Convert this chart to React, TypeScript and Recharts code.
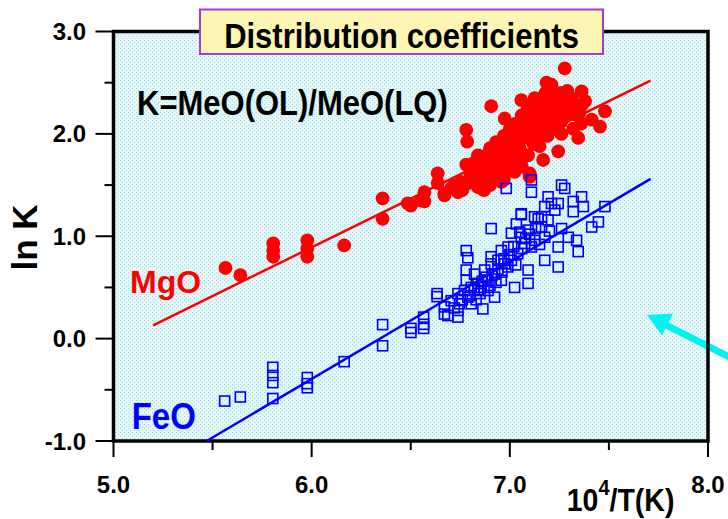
import React from "react";
import {
  ScatterChart,
  Scatter,
  XAxis,
  YAxis,
  ReferenceArea,
  ReferenceLine,
} from "recharts";

// ---------- data ----------
const xTicks = [5, 5.5, 6, 6.5, 7, 7.5, 8];
const yTicks = [-1, -0.5, 0, 0.5, 1, 1.5, 2, 2.5, 3];

// MgO: [10^4/T, ln K]
const mgoPoints: [number, number][] = [
  [5.565, 0.69], [5.64, 0.62], [5.806, 0.93], [5.806, 0.86], [5.806, 0.8],
  [5.978, 0.96], [5.978, 0.88], [5.978, 0.8], [6.164, 0.91], [6.358, 1.37],
  [6.358, 1.17], [6.485, 1.32], [6.501, 1.3], [6.55, 1.35], [6.569, 1.43],
  [6.569, 1.34], [6.636, 1.615], [6.636, 1.52], [6.67, 1.4], [6.67, 1.42],
  [6.704, 1.47], [6.738, 1.43], [6.72, 1.5], [6.754, 1.53], [6.76, 1.45],
  [6.78, 2.04], [6.785, 1.925], [6.78, 1.7], [6.79, 1.52], [6.8, 1.62],
  [6.82, 1.72], [6.83, 1.55], [6.839, 1.79], [6.839, 1.48], [6.85, 1.66],
  [6.856, 1.47], [6.86, 1.58], [6.87, 1.45], [6.87, 1.78], [6.88, 1.7],
  [6.89, 1.79], [6.9, 1.86], [6.9, 1.5], [6.906, 2.27], [6.906, 1.57],
  [6.91, 1.75], [6.923, 1.7], [6.93, 1.92], [6.93, 1.6], [6.94, 1.82],
  [6.95, 1.68], [6.957, 1.86], [6.957, 1.53], [6.957, 1.58], [6.97, 1.98],
  [6.974, 2.15], [6.97, 1.55], [6.98, 1.88], [6.99, 1.7], [6.99, 1.78],
  [7.0, 2.05], [7.0, 1.65], [7.01, 1.95], [7.02, 1.85], [7.024, 1.63],
  [7.03, 2.1], [7.03, 1.72], [7.04, 1.99], [7.04, 1.9], [7.05, 2.0],
  [7.058, 2.33], [7.06, 2.18], [7.06, 1.68], [7.07, 1.8], [7.08, 2.08],
  [7.09, 2.25], [7.092, 1.79], [7.1, 1.615], [7.1, 1.58], [7.1, 1.95],
  [7.11, 2.15], [7.12, 2.3], [7.125, 2.35], [7.13, 2.02], [7.14, 2.22],
  [7.15, 1.88], [7.16, 1.99], [7.16, 2.35], [7.168, 1.745], [7.17, 2.1],
  [7.18, 2.28], [7.185, 2.5], [7.19, 1.98], [7.193, 2.12], [7.2, 2.2],
  [7.21, 2.48], [7.21, 2.38], [7.22, 2.05], [7.23, 2.3], [7.24, 2.15],
  [7.244, 1.83], [7.25, 2.25], [7.26, 2.4], [7.26, 2.12], [7.26, 2.0],
  [7.277, 2.64], [7.28, 2.32], [7.3, 2.2], [7.311, 2.35], [7.32, 2.05],
  [7.328, 2.19], [7.34, 2.28], [7.345, 1.96], [7.362, 2.415], [7.362, 2.28],
  [7.36, 2.1], [7.413, 2.14], [7.455, 2.07], [7.48, 2.22],
  [6.86, 1.68], [6.88, 1.62], [6.92, 1.78], [6.95, 1.75], [6.96, 1.92],
  [6.98, 1.96], [7.0, 1.82], [7.02, 2.0], [7.03, 1.95], [7.05, 1.86],
  [7.06, 2.06], [7.07, 2.12], [7.08, 1.98], [7.09, 2.04], [7.11, 2.22],
  [7.12, 2.08], [7.13, 2.25], [7.14, 2.12], [7.15, 2.3], [7.17, 2.2],
  [7.18, 2.4], [7.19, 2.3], [7.2, 2.08], [7.22, 2.35], [7.24, 2.26],
  [7.27, 2.2], [7.29, 2.42], [7.31, 2.28], [7.35, 2.2], [7.38, 2.32],
  [6.84, 1.62], [6.91, 1.66], [7.06, 1.75], [7.12, 1.9],
];

// FeO: [10^4/T, ln K]
const feoPoints: [number, number][] = [
  [5.561, -0.61], [5.64, -0.57], [5.804, -0.28], [5.804, -0.36], [5.804, -0.43],
  [5.804, -0.585], [5.978, -0.38], [5.978, -0.44], [5.978, -0.48], [6.164, -0.225],
  [6.358, 0.137], [6.358, -0.07], [6.501, 0.06], [6.501, 0.1], [6.565, 0.21],
  [6.565, 0.14], [6.565, 0.1], [6.633, 0.44], [6.633, 0.41], [6.67, 0.31],
  [6.67, 0.24], [6.687, 0.225], [6.704, 0.37], [6.738, 0.21], [6.738, 0.275],
  [6.738, 0.44], [6.746, 0.34], [6.771, 0.47], [6.78, 0.86], [6.788, 0.79],
  [6.78, 0.67], [6.78, 0.57], [6.788, 0.405], [6.805, 0.5], [6.805, 0.34],
  [6.822, 0.63], [6.839, 0.54], [6.839, 0.47], [6.856, 0.5], [6.864, 0.29],
  [6.873, 0.67], [6.89, 0.57], [6.89, 0.47], [6.906, 1.075], [6.906, 0.8],
  [6.906, 0.73], [6.923, 0.63], [6.923, 0.405], [6.94, 0.765], [6.957, 0.86],
  [6.957, 0.57], [6.974, 0.73], [6.982, 1.467], [6.991, 0.895], [7.008, 1.03],
  [7.008, 0.765], [7.024, 0.5], [7.033, 1.12], [7.04, 0.83], [7.05, 1.04],
  [7.058, 1.22], [7.058, 1.21], [7.058, 0.99], [7.075, 0.93], [7.092, 1.06],
  [7.092, 0.67], [7.092, 0.54], [7.109, 1.55], [7.109, 1.43], [7.109, 0.895],
  [7.125, 1.19], [7.125, 0.96], [7.143, 1.17], [7.16, 1.19], [7.16, 1.09],
  [7.176, 1.29], [7.176, 0.99], [7.176, 0.765], [7.193, 1.385], [7.193, 1.16],
  [7.21, 1.32], [7.227, 1.255], [7.244, 1.32], [7.244, 0.895], [7.244, 0.7],
  [7.261, 1.5], [7.261, 1.075], [7.277, 1.467], [7.295, 0.99], [7.32, 1.24],
  [7.32, 1.34], [7.337, 0.96], [7.345, 0.85], [7.362, 1.385], [7.371, 1.29],
  [7.413, 1.09], [7.447, 1.14], [7.48, 1.29],
  [6.8, 0.42], [6.82, 0.48], [6.83, 0.38], [6.85, 0.44], [6.86, 0.56],
  [6.87, 0.5], [6.88, 0.6], [6.9, 0.52], [6.91, 0.62], [6.93, 0.55],
  [6.94, 0.68], [6.96, 0.65], [6.97, 0.78], [6.99, 0.7], [7.0, 0.82],
  [7.02, 0.9], [7.03, 0.72], [7.06, 0.88], [7.08, 0.98], [7.1, 1.02],
  [7.13, 1.08], [7.15, 0.92], [7.2, 1.05], [6.76, 0.38], [6.72, 0.3],
];

// fitted regression lines (endpoints)
const mgoFit: [number, number][] = [[5.2, 0.13], [7.71, 2.52]];
const feoFit: [number, number][] = [[5.47, -1.0], [7.71, 1.56]];

// ---------- layout ----------
const W = 728;
const H = 519;
const PLOT_LEFT = 113.5;
const PLOT_RIGHT = 708;
const PLOT_TOP = 31.5;
const PLOT_BOTTOM = 441;
const FONT = "'Liberation Sans', Arial, Helvetica, sans-serif";

const mgoData = mgoPoints.map(([x, y]) => ({ x, y }));
const feoData = feoPoints.map(([x, y]) => ({ x, y }));

const isMajor = (v: number) => Math.abs(v - Math.round(v)) < 1e-9;

const XTick = (props: any) => {
  const { x, y, payload } = props;
  const v = payload.value as number;
  const major = isMajor(v);
  return (
    <g>
      <line x1={x} x2={x} y1={y} y2={y + (major ? 16 : 9)} stroke="#000" strokeWidth={2} />
      {major && (
        <text x={x} y={y + 52} textAnchor="middle" fontSize={24} fontWeight="bold" fontFamily={FONT} fill="#000">
          {v.toFixed(1)}
        </text>
      )}
    </g>
  );
};

const YTick = (props: any) => {
  const { x, y, payload } = props;
  const v = payload.value as number;
  const major = isMajor(v);
  return (
    <g>
      <line x1={x - (major ? 18 : 9)} x2={x} y1={y} y2={y} stroke="#000" strokeWidth={2} />
      {major && (
        <text x={x - 27.5} y={y + 8.5} textAnchor="end" fontSize={24} fontWeight="bold" fontFamily={FONT} fill="#000">
          {v.toFixed(1)}
        </text>
      )}
    </g>
  );
};

const RedDot = (p: any) => <circle cx={p.cx} cy={p.cy} r={6.9} fill="#FF0000" />;
const BlueSquare = (p: any) => (
  <rect x={p.cx - 5} y={p.cy - 5} width={10} height={10} fill="none" stroke="#0000FF" strokeWidth={1.6} />
);

export default function App() {
  return (
    <div style={{ position: "absolute", left: 0, top: 0, width: W, height: H }}>
      {/* underlay: plot background & arrow */}
      <svg width={W} height={H} style={{ position: "absolute", left: 0, top: 0 }}>
        <defs>
          <pattern id="dots" width={4} height={4} patternUnits="userSpaceOnUse">
            <rect width={4} height={4} fill="#E2F7F9" />
            <rect x={0} y={0} width={1} height={1} fill="#A6DAE2" />
            <rect x={2} y={2} width={1} height={1} fill="#A6DAE2" />
          </pattern>
        </defs>
        <rect x={PLOT_LEFT} y={PLOT_TOP} width={PLOT_RIGHT - PLOT_LEFT} height={PLOT_BOTTOM - PLOT_TOP} fill="url(#dots)" />
        <line x1={735} y1={360} x2={664} y2={324} stroke="#00F2F2" strokeWidth={7} />
        <polygon points="647,315 673,313.5 662,335.5" fill="#00F2F2" />
      </svg>

      <div style={{ position: "absolute", left: 0, top: 0 }}>
        <ScatterChart
          width={W}
          height={H}
          margin={{ top: PLOT_TOP, right: W - PLOT_RIGHT, bottom: 0, left: 0 }}
        >
          <XAxis
            type="number"
            dataKey="x"
            domain={[5, 8]}
            ticks={xTicks}
            interval={0}
            height={H - PLOT_BOTTOM}
            axisLine={false}
            tickLine={false}
            tickSize={0}
            tickMargin={0}
            allowDataOverflow
            tick={(p: any) => <XTick {...p} />}
          />
          <YAxis
            type="number"
            dataKey="y"
            domain={[-1, 3]}
            ticks={yTicks}
            interval={0}
            width={PLOT_LEFT}
            axisLine={false}
            tickLine={false}
            tickSize={0}
            tickMargin={0}
            allowDataOverflow
            tick={(p: any) => <YTick {...p} />}
          />
          <ReferenceLine
            segment={mgoFit.map(([x, y]) => ({ x, y }))}
            stroke="#FF0000"
            strokeWidth={2.5}
            ifOverflow="visible"
          />
          <ReferenceLine
            segment={feoFit.map(([x, y]) => ({ x, y }))}
            stroke="#0000FF"
            strokeWidth={2.5}
            ifOverflow="visible"
          />
          <Scatter data={mgoData} shape={RedDot} isAnimationActive={false} />
          <Scatter data={feoData} shape={BlueSquare} isAnimationActive={false} />
          <ReferenceArea
            x1={5}
            x2={8}
            y1={-1}
            y2={3}
            fill="none"
            fillOpacity={0}
            stroke="#000"
            strokeWidth={3.5}
            strokeOpacity={1}
            ifOverflow="visible"
          />
        </ScatterChart>
      </div>

      {/* overlay: title box & annotations */}
      <svg width={W} height={H} style={{ position: "absolute", left: 0, top: 0, pointerEvents: "none" }}>
        <rect x={200} y={9.5} width={403} height={44.5} fill="#FCF5B3" stroke="#A43CD2" strokeWidth={2} />
        <text transform="translate(401.5,48.3) scale(1,1.12)" textAnchor="middle" fontSize={31} fontWeight="bold" fontFamily={FONT} fill="#000">
          Distribution coefficients
        </text>
        <text transform="translate(137,115) scale(1,1.12)" fontSize={31} fontWeight="bold" fontFamily={FONT} fill="#000">
          K=MeO(OL)/MeO(LQ)
        </text>
        <text x={130} y={293} fontSize={32} fontWeight="bold" fontFamily={FONT} fill="#FF0000">
          MgO
        </text>
        <text transform="translate(131.7,429.3) scale(1,1.1)" fontSize={33} fontWeight="bold" fontFamily={FONT} fill="#0000FF">
          FeO
        </text>
        <text transform="translate(36.7,237.5) rotate(-90)" textAnchor="middle" fontSize={35} fontWeight="bold" fontFamily={FONT} fill="#000">
          ln K
        </text>
        <text transform="translate(566.7,511) scale(1,1.12)" fontSize={28.5} fontWeight="bold" fontFamily={FONT} fill="#000">
          10
          <tspan fontSize={20} dy={-14}>4</tspan>
          <tspan fontSize={28.5} dy={14}>/T(K)</tspan>
        </text>
      </svg>
    </div>
  );
}
